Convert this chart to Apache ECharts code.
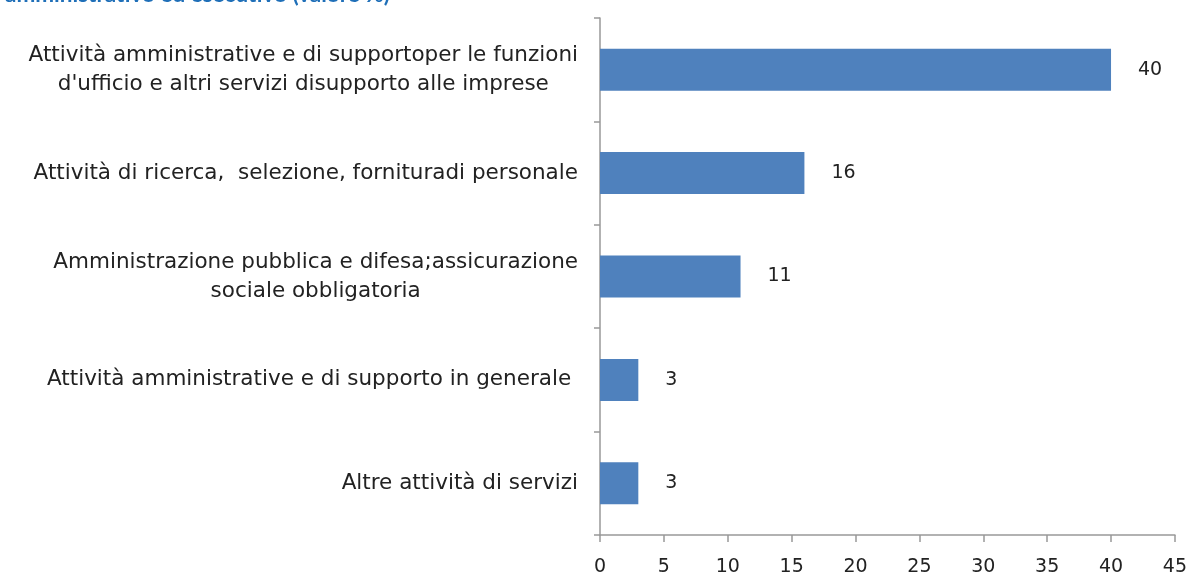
<!DOCTYPE html>
<html>
<head>
<meta charset="utf-8">
<script src="https://cdn.jsdelivr.net/npm/echarts@6/dist/echarts.min.js"></script>
<style>
  html, body { margin: 0; padding: 0; background: #fff; }
  #main { width: 1190px; height: 577px; }
</style>
</head>
<body>
<div id="main"></div>
<script>
// categories, bottom to top as the axis draws them
var categories = [
  "Altre attività di servizi",
  "Attività amministrative e di supporto in generale ",
  "Amministrazione pubblica e difesa;assicurazione\nsociale obbligatoria",
  "Attività di ricerca,  selezione, fornituradi personale",
  "Attività amministrative e di supportoper le funzioni\nd'ufficio e altri servizi disupporto alle imprese"
];
var values = [3, 3, 11, 16, 40];
var xTicks = [0, 5, 10, 15, 20, 25, 30, 35, 40, 45];

var chart = echarts.init(document.getElementById("main"));

var labelFont = "DejaVu Sans";

chart.setOption({
  animation: false,
  textStyle: { fontFamily: labelFont },
  title: {
    text: "amministrativo ed esecutivo (valore %)",
    left: 0,
    top: -22,
    textStyle: { color: "#1F6FB8", fontSize: 22.5, fontWeight: "bold", fontFamily: "Lato" }
  },
  grid: { left: 600, right: 12, top: 18, bottom: 42 },
  xAxis: {
    type: "value",
    min: xTicks[0],
    max: xTicks[xTicks.length - 1],
    interval: 5,
    axisLine: { show: true, lineStyle: { color: "#999", width: 1.5 } },
    axisTick: { show: true, length: 7, lineStyle: { color: "#999", width: 1.5 } },
    splitLine: { show: false },
    axisLabel: { color: "#222", fontSize: 19, margin: 23, fontFamily: labelFont }
  },
  yAxis: {
    type: "category",
    data: categories,
    axisLine: { show: true, lineStyle: { color: "#999", width: 1.5 } },
    axisTick: { show: true, length: 6, lineStyle: { color: "#999", width: 1.5 } },
    axisLabel: {
      color: "#222",
      fontSize: 21.5,
      margin: 22,
      lineHeight: 29,
      formatter: function (v) {
        return v.split("\n").map(function (l) { return "{c|" + l + "}"; }).join("\n");
      },
      rich: { c: { align: "center", fontSize: 21.5, lineHeight: 29, color: "#222", fontFamily: labelFont } }
    }
  },
  series: [{
    type: "bar",
    data: values,
    barWidth: 42,
    itemStyle: { color: "#4F81BD" },
    label: { show: true, position: "right", distance: 27, color: "#222", fontSize: 19, fontFamily: labelFont }
  }]
});
</script>
</body>
</html>
